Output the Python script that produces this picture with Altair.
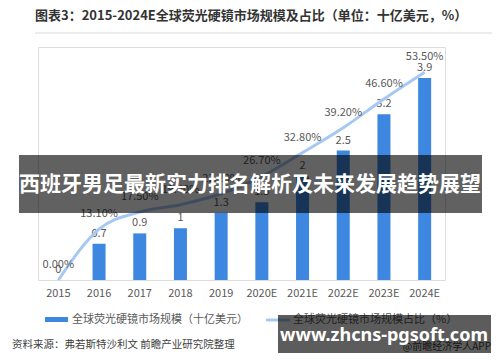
import altair as alt
import pandas as pd

years = ["2015", "2016", "2017", "2018", "2019", "2020E", "2021E", "2022E", "2023E", "2024E"]
market = [0, 0.7, 0.9, 1.0, 1.3, 1.5, 2.0, 2.5, 3.2, 3.9]
share = [0.0, 0.131, 0.175, 0.194, 0.222, 0.267, 0.328, 0.392, 0.466, 0.535]

title_text = "图表3：2015-2024E全球荧光硬镜市场规模及占比（单位：十亿美元，%）"
legend_bar = "全球荧光硬镜市场规模（十亿美元）"
legend_line = "全球荧光硬镜市场规模占比（%）"
source_text = "资料来源：弗若斯特沙利文 前瞻产业研究院整理"
brand_text = "@前瞻经济学人APP"
banner_text = "西班牙男足最新实力排名解析及未来发展趋势展望"
url_text = "www.zhcns-pgsoft.com"

FONT = "Noto Sans CJK SC"
BAR = "#3d87e0"
LINE = "#a6c9f3"
GRAY = "#595959"

df = pd.DataFrame({"year": years, "market": market, "share": share})

x_enc = alt.X("year:N", sort=years, title=None,
              scale=alt.Scale(paddingInner=0.0, paddingOuter=0.0),
              axis=alt.Axis(labelAngle=0, domain=False, ticks=False, tickSize=0,
                            labelPadding=7, labelFontSize=11, labelColor=GRAY,
                            labelFont=FONT))

y_left = alt.Y("market:Q", title=None,
               scale=alt.Scale(domain=[0, 4.5], nice=False),
               axis=alt.Axis(values=[0, 0.5, 1, 1.5, 2, 2.5, 3, 3.5, 4, 4.5], format="~g",
                             domain=False, ticks=False, tickSize=0, labelPadding=11,
                             labelFontSize=11, labelColor=GRAY, labelFont=FONT,
                             grid=True, gridColor="#d9d9d9", gridWidth=1))

y_right = alt.Y("share:Q", title=None,
                scale=alt.Scale(domain=[0, 0.6], nice=False),
                axis=alt.Axis(orient="right", values=[0, 0.1, 0.2, 0.3, 0.4, 0.5, 0.6],
                              format=".2%", domain=False, ticks=False, tickSize=0,
                              labelPadding=9, labelFontSize=11, labelColor=GRAY,
                              labelFont=FONT, grid=False))

base = alt.Chart(df)

bars = base.mark_bar(size=13, color=BAR).encode(x=x_enc, y=y_left)
bar_labels = base.mark_text(baseline="bottom", dy=-5, fontSize=11, color=GRAY, font=FONT).encode(
    x=alt.X("year:N", sort=years), y=alt.Y("market:Q", axis=None, scale=alt.Scale(domain=[0, 4.5], nice=False)),
    text=alt.Text("market:Q", format="~g"))

left = alt.layer(bars, bar_labels)

line = base.mark_line(color=LINE, strokeWidth=3, interpolate="monotone").encode(
    x=alt.X("year:N", sort=years), y=y_right)
line_labels = base.mark_text(baseline="bottom", dy=-10, fontSize=11, color=GRAY, font=FONT).encode(
    x=alt.X("year:N", sort=years),
    y=alt.Y("share:Q", axis=None, scale=alt.Scale(domain=[0, 0.6], nice=False)),
    text=alt.Text("share:Q", format=".2%"))

right = alt.layer(line, line_labels)

one = pd.DataFrame({"a": [0]})
ann = alt.Chart(one)

title = ann.mark_text(align="left", baseline="middle", fontSize=13, fontWeight="bold",
                      color="#333333", font=FONT, text=title_text).encode(
    x=alt.value(-3), y=alt.value(-31))
sep = ann.mark_rule(color="#d9d9d9", strokeWidth=1).encode(
    x=alt.value(-3), x2=alt.value(454), y=alt.value(-14))
leg_rect = ann.mark_rect(color=BAR).encode(
    x=alt.value(7), x2=alt.value(30), y=alt.value(270), y2=alt.value(275))
leg_t1 = ann.mark_text(align="left", baseline="middle", fontSize=11, color=GRAY, font=FONT,
                       text=legend_bar).encode(x=alt.value(34), y=alt.value(273))
leg_line = ann.mark_rule(color=LINE, strokeWidth=3).encode(
    x=alt.value(228), x2=alt.value(252), y=alt.value(273))
leg_t2 = ann.mark_text(align="left", baseline="middle", fontSize=11, color=GRAY, font=FONT,
                       text=legend_line).encode(x=alt.value(255), y=alt.value(273))
src = ann.mark_text(align="left", baseline="middle", fontSize=10.5, color="#404040", font=FONT,
                    text=source_text).encode(x=alt.value(-26), y=alt.value(298))
brand = ann.mark_text(align="right", baseline="middle", fontSize=10, color="#404040", font=FONT,
                      text=brand_text).encode(x=alt.value(453), y=alt.value(300))
ban1 = ann.mark_rect(color="black", opacity=0.62).encode(
    x=alt.value(-19), x2=alt.value(444), y=alt.value(108), y2=alt.value(166))
ban1_t = ann.mark_text(align="center", baseline="middle", fontSize=21, fontWeight="bold",
                       color="white", font=FONT, text=banner_text).encode(
    x=alt.value(212), y=alt.value(138))
ban2 = ann.mark_rect(color="black", opacity=0.64).encode(
    x=alt.value(240), x2=alt.value(453), y=alt.value(268), y2=alt.value(306))
ban2_t = ann.mark_text(align="center", baseline="middle", fontSize=18, fontWeight="bold",
                       color="white", font="Noto Sans", text=url_text).encode(
    x=alt.value(346), y=alt.value(289))

annotations = alt.layer(title, sep, leg_rect, leg_t1, leg_line, leg_t2, src, brand,
                        ban1, ban1_t, ban2, ban2_t)

chart = alt.layer(left, right, annotations).resolve_scale(y="independent").properties(
    width=407, height=233,
    autosize=alt.AutoSizeParams(type="none"),
    padding={"left": 30, "top": 39, "right": 47, "bottom": 74},
).configure_view(stroke=None).configure(background="white")

chart.save("out.html", embed_options={"renderer": "svg", "actions": False})
